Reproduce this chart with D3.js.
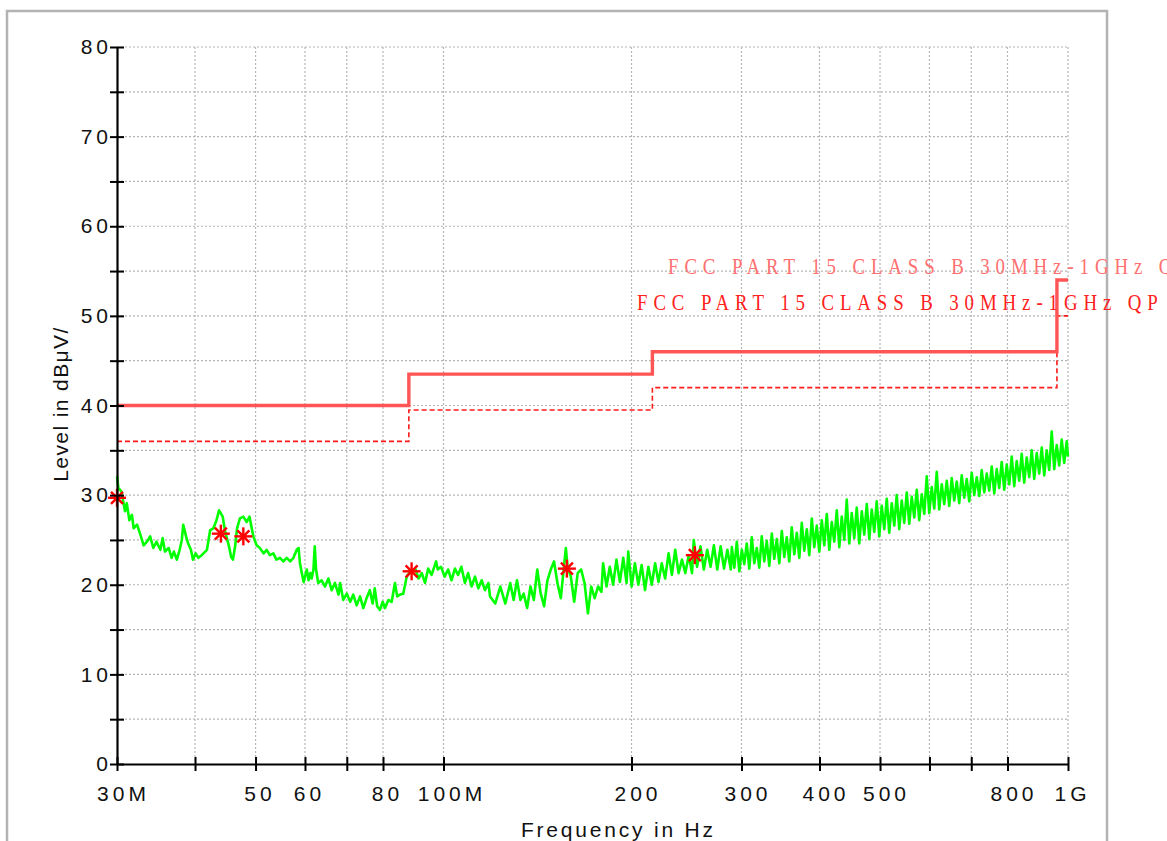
<!DOCTYPE html>
<html><head><meta charset="utf-8">
<script src="https://cdn.jsdelivr.net/npm/d3@7"></script>
<style>
body{margin:0;background:#fff;}
svg{display:block;}
text{font-family:"Liberation Sans",Arial,sans-serif;}
</style></head><body>
<svg id="c" width="1167" height="841"></svg>
<script>
// ---------- DATA ----------
const traceFreq = [30.0,30.15,30.5,30.7,30.9,31.1,31.4,31.7,31.9,32.3,32.7,33.1,33.5,33.9,34.3,34.7,35.2,35.5,35.8,36.3,36.7,37.0,37.4,37.8,38.1,38.3,38.7,39.0,39.4,39.7,40.1,40.5,41.0,41.8,42.3,42.8,43.3,43.7,44.3,44.7,45.3,45.7,46.0,46.4,46.7,47.2,47.8,48.4,48.9,49.3,49.6,50.2,50.8,51.5,52.1,52.7,53.4,54.0,54.7,55.4,56.1,56.8,57.5,58.2,58.6,58.9,59.3,59.7,60.0,60.4,60.8,61.2,61.5,61.9,62.2,62.5,63.0,63.8,64.6,65.4,66.2,67.0,67.9,68.3,69.1,70.0,70.9,71.7,72.6,73.5,74.4,75.3,76.2,77.0,77.6,78.3,79.1,79.9,80.6,81.6,82.6,83.6,84.3,85.2,86.2,87.3,88.1,88.9,90.1,91.2,92.3,93.4,94.5,95.7,97.3,97.9,99.1,100.4,101.7,103.0,104.3,105.5,106.8,108.2,109.5,110.9,112.3,113.7,115.1,116.5,118.0,118.7,121.0,123.3,125.6,127.9,129.5,131.1,132.8,134.4,136.1,137.8,139.5,141.3,143.1,144.9,146.7,148.5,150.3,152.2,154.1,156.1,157.0,158.0,159.9,161.9,164.0,166.1,168.2,170.3,172.4,174.6,176.8,179.0,180.1,182.4,184.6,186.9,189.2,191.6,194.0,196.4,197.6,200.1,202.5,205.1,207.6,210.2,212.8,215.5,218.2,220.9,223.6,226.4,229.3,232.1,235.0,237.9,240.9,243.9,247.0,250.0,251.6,254.7,257.9,261.1,264.4,267.7,271.0,274.4,277.8,281.3,284.8,288.4,
289.5,292.2,294.9,297.6,300.4,303.1,305.9,308.8,311.6,314.5,317.4,320.4,323.3,326.3,329.3,332.4,335.5,338.6,341.7,344.9,348.1,351.3,354.5,357.8,361.1,364.5,367.9,371.3,374.7,378.2,381.7,385.2,388.8,392.4,396.0,399.7,403.4,407.1,410.9,414.7,418.5,422.4,426.3,430.3,434.2,438.3,442.3,446.4,450.5,454.7,458.9,463.2,467.5,471.8,476.2,480.6,485.0,489.5,494.0,498.6,503.2,507.9,512.6,517.3,522.1,527.0,531.8,536.8,541.7,546.7,551.8,556.9,562.1,567.3,572.5,577.8,583.2,588.6,594.0,599.5,605.1,610.7,616.3,622.0,627.8,633.6,639.5,645.4,651.4,657.4,663.5,669.6,675.8,682.1,688.4,694.8,701.2,707.7,714.3,720.9,727.5,734.3,741.1,747.9,754.9,761.9,768.9,776.0,783.2,790.5,797.8,805.2,812.6,820.1,827.7,835.4,843.1,850.9,858.8,866.8,874.8,882.9,891.1,899.3,907.7,916.1,924.5,933.1,941.7,950.5,959.3,968.1,977.1,986.1,995.3,1000];
const traceLevel = [32.1,30.8,30.4,29.3,28.2,29.1,27.2,27.8,26.3,26.7,25.6,24.4,24.8,25.4,24.1,24.8,23.9,25.2,23.7,24.1,23.0,23.7,22.8,23.9,25.0,26.7,25.4,24.6,23.9,22.8,23.5,23.0,23.3,23.9,26.1,26.3,27.2,28.3,27.6,25.9,24.4,23.1,22.8,24.4,26.3,27.4,27.6,27.0,27.6,26.3,25.4,24.4,24.1,23.5,23.9,23.3,23.5,22.8,23.0,22.6,23.0,22.6,23.0,23.9,24.1,22.4,21.3,20.3,20.9,21.7,20.5,21.3,20.7,21.7,24.3,21.7,20.2,20.5,19.8,20.7,19.4,20.2,18.9,20.2,18.3,19.0,18.1,18.9,17.7,18.7,17.4,18.5,19.4,17.9,19.6,17.6,17.2,18.1,17.4,18.3,18.1,20.2,18.7,18.9,19.0,20.9,21.3,21.5,21.8,20.7,21.3,20.2,21.8,21.1,22.6,21.7,22.0,20.9,21.7,20.5,21.8,21.1,22.0,20.2,21.3,19.8,20.9,19.6,20.5,19.4,20.2,18.7,17.9,19.8,17.9,20.2,18.3,20.5,18.3,19.0,17.4,19.8,18.3,21.7,19.0,17.6,20.5,21.7,22.6,20.2,18.5,22.4,24.1,22.0,20.9,18.1,21.3,21.7,20.2,16.8,19.8,18.5,19.8,19.2,22.4,19.8,22.0,20.0,22.8,20.3,23.0,20.2,23.7,19.8,22.4,20.0,22.2,19.4,22.0,20.0,22.4,20.3,22.4,20.7,23.5,21.1,23.9,21.3,22.8,21.3,23.3,21.3,25.0,22.0,24.3,21.7,23.9,22.0,24.4,21.7,24.3,21.8,23.9,21.7,
24.2,21.9,24.8,21.5,23.9,22.3,24.6,21.8,25.3,22.4,24.1,21.9,25.4,22.6,24.9,22.1,25.7,22.9,25.1,22.4,26.0,23.1,25.3,22.6,26.4,23.4,25.8,23.0,26.9,23.8,26.2,23.3,27.4,24.2,26.6,23.7,27.2,24.4,27.9,23.9,27.0,24.8,28.3,24.2,27.6,25.0,29.5,24.6,28.0,25.2,28.6,24.6,28.2,25.6,29.0,25.1,28.4,25.9,29.3,25.4,28.8,26.2,29.6,25.8,29.1,26.6,30.0,26.2,29.4,26.9,30.3,26.8,29.8,27.5,30.6,27.2,30.1,27.9,32.1,28.0,30.9,28.5,32.6,28.4,31.2,29.0,31.6,28.8,31.9,29.4,31.5,29.1,32.2,29.7,31.8,29.3,32.5,30.0,32.0,29.9,32.8,30.3,32.4,30.5,33.2,30.2,32.9,30.8,33.7,30.6,33.4,31.2,34.3,31.0,33.8,31.6,34.6,31.4,34.2,32.0,35.0,31.8,34.7,32.4,35.3,32.2,35.0,32.8,37.1,32.9,35.6,33.3,36.2,33.6,36.0,34.3];

const limitEdges = [30, 88, 216, 960, 1000];
const limitQP = [40, 43.5, 46, 54];
const limitQPMargin = [36, 39.5, 42, 50];
const limitLabels = ["FCC PART 15 CLASS B 30MHz-1GHz QP", "FCC PART 15 CLASS B 30MHz-1GHz QP"];

const markerFreq = [30.0, 44.0, 47.8, 88.9, 157.6, 252.6];
const markerLevel = [29.7, 25.7, 25.4, 21.5, 21.8, 23.3];

const xTickValues = [30, 40, 50, 60, 70, 80, 100, 200, 300, 400, 500, 600, 700, 800, 1000];
const xTickLabels = ["30M", "", "50", "60", "", "80", "100M", "200", "300", "400", "500", "", "", "800", "1G"];
const yMajorTicks = [0, 10, 20, 30, 40, 50, 60, 70, 80];
const yMinorTicks = [5, 15, 25, 35, 45, 55, 65, 75];
const xTitle = "Frequency in Hz";
const yTitle = "Level in dBμV/";

// ---------- CHART ----------
const svg = d3.select("#c");
const L = 117, R = 1068, T = 47, B = 764;
const x = d3.scaleLog().domain([30, 1000]).range([L, R]);
const y = d3.scaleLinear().domain([0, 80]).range([B, T]);

// frame
svg.append("rect").attr("x", 7).attr("y", 11).attr("width", 1100).attr("height", 840)
  .attr("fill", "none").attr("stroke", "#b3b3b3").attr("stroke-width", 2.5);

// grid
const grid = svg.append("g").attr("stroke", "#b5b5b5").attr("stroke-width", 1.2).attr("stroke-dasharray", "2,2");
grid.selectAll(".gh").data(yMajorTicks.concat(yMinorTicks).filter(d => d > 0)).enter().append("line")
  .attr("x1", L).attr("x2", R).attr("y1", d => y(d)).attr("y2", d => y(d));
grid.selectAll(".gv").data(xTickValues.filter(d => d > 30)).enter().append("line")
  .attr("y1", T).attr("y2", B).attr("x1", d => x(d)).attr("x2", d => x(d));

// limit lines
function stepPoints(edges, levels) {
  const pts = [];
  levels.forEach((v, i) => { pts.push([edges[i], v]); pts.push([edges[i + 1], v]); });
  return pts;
}
const line = d3.line().x(d => x(d[0])).y(d => y(d[1]));
svg.append("path").attr("d", line(stepPoints(limitEdges, limitQPMargin)))
  .attr("fill", "none").attr("stroke", "#ff1a1a").attr("stroke-width", 1.6).attr("stroke-dasharray", "5,3");
svg.append("path").attr("d", line(stepPoints(limitEdges, limitQP)))
  .attr("fill", "none").attr("stroke", "#ff5555").attr("stroke-width", 3.4);

// trace
const n = Math.min(traceFreq.length, traceLevel.length);
const tracePts = d3.range(n).map(i => [traceFreq[i], traceLevel[i]]);
svg.append("path").attr("d", line(tracePts))
  .attr("fill", "none").attr("stroke", "#00ff00").attr("stroke-width", 2.6).attr("stroke-linejoin", "round");

// markers
const mk = svg.append("g").attr("stroke", "#ff0000").attr("stroke-width", 2.4);
markerFreq.forEach((f, i) => {
  const cx = x(f), cy = y(markerLevel[i]);
  const g = mk.append("g").attr("transform", `translate(${cx},${cy})`);
  g.append("line").attr("x1", -9).attr("x2", 9).attr("y1", 0).attr("y2", 0);
  g.append("line").attr("x1", 0).attr("x2", 0).attr("y1", -9).attr("y2", 9);
  g.append("line").attr("x1", -6).attr("x2", 6).attr("y1", -6).attr("y2", 6);
  g.append("line").attr("x1", -6).attr("x2", 6).attr("y1", 6).attr("y2", -6);
});

// limit labels (narrow serif, clipped at the right edge as in the source)
function limitLabel(txt, tx, ty, col) {
  svg.append("text").attr("transform", `translate(${tx},${ty}) scale(0.82,1)`).text(txt)
    .style("font-family", "'Liberation Serif','Times New Roman',serif").style("font-size", "23px")
    .style("letter-spacing", "7.2px").attr("fill", col);
}
limitLabel(limitLabels[0], 668, 274, "#ff7070");
limitLabel(limitLabels[1], 637, 310, "#ff2020");

// axes
const LS = 4;
const yAxis = d3.axisLeft(y).tickValues(yMajorTicks.concat(yMinorTicks)).tickSize(7).tickSizeOuter(0)
  .tickFormat(d => yMajorTicks.includes(d) ? String(d) : "");
const gy = svg.append("g").attr("transform", `translate(${L},0)`).call(yAxis);
gy.select(".domain").attr("stroke", "#000").attr("stroke-width", 2.2);
gy.selectAll(".tick line").attr("x1", 7).attr("stroke", "#000").attr("stroke-width", 2);
gy.selectAll(".tick text").attr("x", -5).attr("fill", "#111")
  .style("font-size", "21px").style("letter-spacing", LS + "px").style("font-family", "'Liberation Sans',Arial,sans-serif");

const xAxis = d3.axisBottom(x).tickValues(xTickValues).tickSize(7).tickSizeOuter(0)
  .tickFormat((d, i) => xTickLabels[i]);
const gx = svg.append("g").attr("transform", `translate(0,${B})`).call(xAxis);
gx.select(".domain").attr("stroke", "#000").attr("stroke-width", 2.2);
gx.selectAll(".tick line").attr("y1", -7).attr("stroke", "#000").attr("stroke-width", 2);
gx.selectAll(".tick text").attr("y", 22).attr("fill", "#111")
  .attr("dx", (d, i) => xTickLabels[i].length * LS / 2)
  .style("font-size", "21px").style("letter-spacing", LS + "px").style("font-family", "'Liberation Sans',Arial,sans-serif");

// titles
svg.append("text").attr("x", 617 + 1.4).attr("y", 837).attr("text-anchor", "middle").text(xTitle)
  .style("font-size", "21px").style("letter-spacing", "2.8px").attr("fill", "#111");
svg.append("text").attr("transform", "translate(68,404) rotate(-90)").attr("text-anchor", "middle").text(yTitle)
  .style("font-size", "21px").style("letter-spacing", "1.4px").attr("fill", "#111");
</script>
</body></html>
